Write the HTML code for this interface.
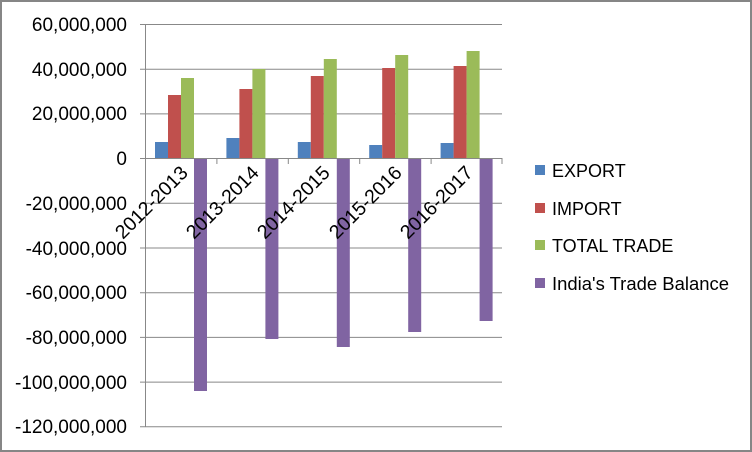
<!DOCTYPE html>
<html><head><style>
html,body{margin:0;padding:0;background:#fff}
svg{display:block}
text{font-family:"Liberation Sans",sans-serif;fill:#000}
</style></head><body>
<svg width="752" height="452" viewBox="0 0 752 452" xmlns="http://www.w3.org/2000/svg">
<rect x="1" y="1" width="750" height="450" fill="#fff" stroke="#868686" stroke-width="2"/>
<g stroke="#888" stroke-width="1">
<line x1="140" y1="24.5" x2="502" y2="24.5"/>
<line x1="140" y1="69.2" x2="502" y2="69.2"/>
<line x1="140" y1="113.9" x2="502" y2="113.9"/>
<line x1="140" y1="203.3" x2="502" y2="203.3"/>
<line x1="140" y1="248" x2="502" y2="248"/>
<line x1="140" y1="292.7" x2="502" y2="292.7"/>
<line x1="140" y1="337.4" x2="502" y2="337.4"/>
<line x1="140" y1="382.1" x2="502" y2="382.1"/>
<line x1="140" y1="426.8" x2="502" y2="426.8"/>
<line x1="145.5" y1="24" x2="145.5" y2="427"/>
</g>
<g font-size="19" text-anchor="end">
<text x="127" y="31">60,000,000</text>
<text x="127" y="76">40,000,000</text>
<text x="127" y="120">20,000,000</text>
<text x="127" y="165">0</text>
<text x="127" y="210">-20,000,000</text>
<text x="127" y="255">-40,000,000</text>
<text x="127" y="299">-60,000,000</text>
<text x="127" y="344">-80,000,000</text>
<text x="127" y="389">-100,000,000</text>
<text x="127" y="433">-120,000,000</text>
</g>
<g>
<rect x="155" y="142" width="13" height="16" fill="#4f81bd"/>
<rect x="168" y="95" width="13" height="63" fill="#c0504d"/>
<rect x="181" y="78" width="13" height="80" fill="#9bbb59"/>
<rect x="194" y="158" width="13" height="233" fill="#8064a2"/>

<rect x="226.4" y="138" width="13" height="20" fill="#4f81bd"/>
<rect x="239.4" y="89" width="13" height="69" fill="#c0504d"/>
<rect x="252.4" y="69" width="13" height="89" fill="#9bbb59"/>
<rect x="265.4" y="158" width="13" height="181" fill="#8064a2"/>

<rect x="297.8" y="142" width="13" height="16" fill="#4f81bd"/>
<rect x="310.8" y="76" width="13" height="82" fill="#c0504d"/>
<rect x="323.8" y="59" width="13" height="99" fill="#9bbb59"/>
<rect x="336.8" y="158" width="13" height="189" fill="#8064a2"/>

<rect x="369.2" y="145" width="13" height="13" fill="#4f81bd"/>
<rect x="382.2" y="68" width="13" height="90" fill="#c0504d"/>
<rect x="395.2" y="55" width="13" height="103" fill="#9bbb59"/>
<rect x="408.2" y="158" width="13" height="174" fill="#8064a2"/>

<rect x="440.6" y="143" width="13" height="15" fill="#4f81bd"/>
<rect x="453.6" y="66" width="13" height="92" fill="#c0504d"/>
<rect x="466.6" y="51" width="13" height="107" fill="#9bbb59"/>
<rect x="479.6" y="158" width="13" height="163" fill="#8064a2"/>
</g>
<g stroke="#888" stroke-width="1">
<line x1="140" y1="158.5" x2="502" y2="158.5"/>
<line x1="216.9" y1="158" x2="216.9" y2="164"/>
<line x1="288.3" y1="158" x2="288.3" y2="164"/>
<line x1="359.7" y1="158" x2="359.7" y2="164"/>
<line x1="431.1" y1="158" x2="431.1" y2="164"/>
<line x1="502" y1="158" x2="502" y2="164"/>
</g>
<g font-size="19.5" text-anchor="end">
<text transform="translate(189,174) rotate(-45)">2012-2013</text>
<text transform="translate(260,174) rotate(-45)">2013-2014</text>
<text transform="translate(331,174) rotate(-45)">2014-2015</text>
<text transform="translate(403,174) rotate(-45)">2015-2016</text>
<text transform="translate(474,174) rotate(-45)">2016-2017</text>
</g>
<g font-size="18">
<rect x="535" y="165" width="10" height="10" fill="#4f81bd"/>
<text x="552" y="177">EXPORT</text>
<rect x="535" y="203" width="10" height="10" fill="#c0504d"/>
<text x="552" y="215">IMPORT</text>
<rect x="535" y="240" width="10" height="10" fill="#9bbb59"/>
<text x="552" y="252">TOTAL TRADE</text>
<rect x="535" y="278" width="10" height="10" fill="#8064a2"/>
<text x="552" y="290" textLength="177" lengthAdjust="spacingAndGlyphs">India's Trade Balance</text>
</g>
</svg>
</body></html>
